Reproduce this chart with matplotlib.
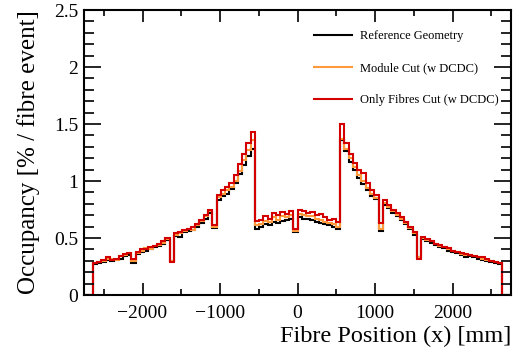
import numpy as np
import matplotlib
matplotlib.use('Agg')
import matplotlib.pyplot as plt
from matplotlib.ticker import MultipleLocator

# bin edges of the fibre position histogram [mm]
edges = np.linspace(-2750, 2750, 101)

# occupancy per bin [% / fibre event], bins 2..39 (left), 40..59 (centre), 60..97 (right)
ref_left = [0.27, 0.28, 0.29, 0.31, 0.30, 0.31, 0.32, 0.34, 0.35, 0.28, 0.36, 0.38, 0.39,
            0.40, 0.42, 0.43, 0.45, 0.48, 0.30, 0.52, 0.51, 0.55, 0.56, 0.57, 0.60, 0.63,
            0.67, 0.72, 0.59, 0.83, 0.87, 0.89, 0.93, 0.98, 1.06, 1.14, 1.22, 1.28]
ref_mid = [0.58, 0.60, 0.62, 0.61, 0.64, 0.63, 0.65, 0.66, 0.67, 0.55, 0.68, 0.67, 0.67,
           0.66, 0.64, 0.63, 0.62, 0.61, 0.60, 0.58]
ref_right = [1.36, 1.26, 1.17, 1.10, 1.03, 0.97, 0.92, 0.87, 0.84, 0.56, 0.79, 0.76, 0.72,
             0.69, 0.66, 0.62, 0.58, 0.53, 0.33, 0.49, 0.47, 0.46, 0.44, 0.42, 0.41, 0.39,
             0.38, 0.37, 0.35, 0.33, 0.34, 0.33, 0.32, 0.31, 0.30, 0.29, 0.28, 0.27]

mod_left = [0.28, 0.29, 0.30, 0.32, 0.32, 0.31, 0.34, 0.35, 0.37, 0.30, 0.37, 0.39, 0.41,
            0.40, 0.43, 0.44, 0.46, 0.49, 0.30, 0.53, 0.54, 0.56, 0.58, 0.57, 0.61, 0.65,
            0.69, 0.74, 0.60, 0.86, 0.89, 0.92, 0.95, 1.00, 1.09, 1.18, 1.27, 1.36]
mod_mid = [0.61, 0.62, 0.65, 0.64, 0.68, 0.66, 0.69, 0.68, 0.70, 0.56, 0.71, 0.70, 0.69,
           0.69, 0.67, 0.66, 0.64, 0.63, 0.62, 0.60]
mod_right = [1.37, 1.28, 1.20, 1.12, 1.05, 1.00, 0.94, 0.89, 0.85, 0.58, 0.81, 0.77, 0.74,
             0.70, 0.67, 0.63, 0.59, 0.54, 0.33, 0.50, 0.48, 0.47, 0.45, 0.43, 0.42, 0.40,
             0.39, 0.38, 0.36, 0.35, 0.35, 0.34, 0.33, 0.32, 0.31, 0.30, 0.29, 0.28]

fib_left = [0.28, 0.29, 0.31, 0.33, 0.31, 0.32, 0.34, 0.36, 0.37, 0.32, 0.38, 0.40, 0.40,
            0.42, 0.43, 0.45, 0.47, 0.50, 0.29, 0.54, 0.55, 0.57, 0.58, 0.60, 0.62, 0.66,
            0.70, 0.75, 0.61, 0.88, 0.92, 0.95, 0.98, 1.05, 1.15, 1.24, 1.33, 1.43]
fib_mid = [0.65, 0.66, 0.69, 0.67, 0.72, 0.70, 0.73, 0.71, 0.74, 0.58, 0.75, 0.74, 0.72,
           0.73, 0.70, 0.71, 0.68, 0.66, 0.67, 0.64]
fib_right = [1.50, 1.33, 1.24, 1.16, 1.10, 1.07, 0.98, 0.92, 0.88, 0.63, 0.83, 0.79, 0.75,
             0.72, 0.68, 0.64, 0.60, 0.55, 0.32, 0.51, 0.49, 0.47, 0.45, 0.44, 0.42, 0.41,
             0.39, 0.38, 0.37, 0.36, 0.35, 0.34, 0.33, 0.33, 0.32, 0.30, 0.29, 0.28]

labels = ['Reference Geometry', 'Module Cut (w DCDC)', 'Only Fibres Cut (w DCDC)']
colors = ['black', '#ff9a3c', '#d40000']


def full_hist(left, mid, right):
    return np.array([0, 0] + left + mid + right + [0, 0])


plt.rcParams['font.family'] = ['Liberation Serif', 'DejaVu Serif']

fig = plt.figure(figsize=(5.17, 3.56), dpi=100)
ax = fig.add_axes([0.1625, 0.1713, 0.826, 0.8006])

series = [(ref_left, ref_mid, ref_right), (mod_left, mod_mid, mod_right),
          (fib_left, fib_mid, fib_right)]
for (l, m, r), lab, col in zip(series, labels, colors):
    ax.stairs(full_hist(l, m, r), edges, color=col, linewidth=1.5, label=lab)

ax.set_xlim(-2755, 2755)
ax.set_ylim(0, 2.5)

ax.xaxis.set_minor_locator(MultipleLocator(500))
ax.yaxis.set_minor_locator(MultipleLocator(0.1))
ax.set_yticks([0, 0.5, 1, 1.5, 2, 2.5])
ax.set_yticklabels(['0', '0.5', '1', '1.5', '2', '2.5'])
ax.set_xticks([-2000, -1000, 0, 1000, 2000])
ax.set_xticklabels(['\u22122000', '\u22121000', '0', '1000', '2000'])

ax.tick_params(axis='x', which='major', direction='in', length=8.5, width=1.2,
               top=True, labelsize=14, pad=7)
ax.tick_params(axis='x', which='minor', direction='in', length=4, width=1.2, top=True)
ax.tick_params(axis='y', which='major', direction='in', length=12, width=1.2,
               right=True, labelsize=14, pad=4)
ax.tick_params(axis='y', which='minor', direction='in', length=7, width=1.2, right=True)
for s in ax.spines.values():
    s.set_linewidth(1.5)

ax.set_xlabel('Fibre Position (x) [mm]', fontsize=17.5, loc='right', labelpad=3)
ax.set_ylabel('Occupancy [% / fibre event]', fontsize=18, loc='top', labelpad=10)

ax.legend(loc='upper left', bbox_to_anchor=(0.539, 0.93), frameon=False,
          fontsize=9, handlelength=3.0, handletextpad=0.65, labelspacing=1.6,
          borderpad=0, borderaxespad=0)

fig.savefig('out.png', dpi=100)
